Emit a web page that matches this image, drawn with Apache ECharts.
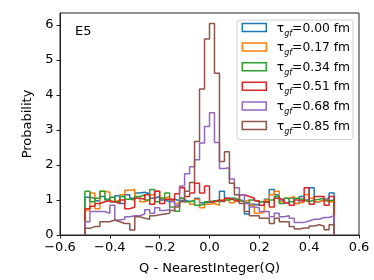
<!DOCTYPE html>
<html><head><meta charset="utf-8">
<script src="https://cdn.jsdelivr.net/npm/echarts@6/dist/echarts.min.js"></script>
<style>html,body{margin:0;padding:0;background:#fff}#c{width:374px;height:280px}</style>
</head><body><div id="c"></div>
<script>
// bin edges: 50 bins from -0.5 to 0.5
var binStart = -0.5, binWidth = 0.02, nBins = 50;
var labels = ['0.00', '0.17', '0.34', '0.51', '0.68', '0.85'];
var colors = ['#1f77b4', '#ff7f0e', '#2ca02c', '#d62728', '#9467bd', '#8c564b'];
var xTicks = [-0.6, -0.4, -0.2, 0.0, 0.2, 0.4, 0.6];
var yTicks = [0, 1, 2, 3, 4, 5, 6];

var tau000 = [1.08,1.05,0.98,1.10,1.02,0.95,1.12,0.90,1.15,1.05,1.20,1.22,1.18,1.05,1.10,1.00,0.95,1.02,0.98,1.00,0.96,0.98,1.05,0.92,0.93,0.95,1.00,1.25,1.05,1.05,1.00,0.98,0.60,0.88,0.85,0.95,1.02,1.30,1.15,1.00,0.92,1.05,0.90,1.10,1.00,1.35,0.95,1.00,1.05,1.20];
var tau017 = [0.70,1.20,0.75,1.25,1.22,0.95,1.00,1.15,1.28,1.30,1.05,0.95,1.00,1.15,1.25,1.05,1.10,0.98,0.90,1.05,0.95,0.88,1.02,0.78,0.88,0.90,0.85,1.00,1.00,0.92,0.98,0.95,1.00,0.85,0.62,0.65,1.00,1.15,1.25,0.95,1.05,1.10,0.90,0.95,1.15,1.05,0.95,1.00,0.95,0.95];
var tau034 = [1.25,0.95,1.05,1.25,1.00,1.08,0.95,1.10,1.02,1.00,1.10,1.15,1.00,1.30,0.95,1.05,1.20,0.80,0.68,1.05,0.95,0.98,0.85,0.88,0.95,0.98,0.95,1.00,1.00,1.05,1.00,0.95,0.90,1.00,0.95,0.95,0.92,1.00,1.10,0.90,1.05,0.95,1.05,1.00,0.95,1.00,1.02,1.05,0.98,1.00];
var tau051 = [0.75,0.82,0.90,0.95,0.98,0.95,0.90,1.00,0.75,0.80,1.05,1.02,1.15,0.88,1.25,0.90,1.02,1.00,1.18,1.35,1.10,1.20,1.48,1.20,1.40,0.95,1.00,0.95,1.05,1.00,0.95,1.15,1.10,1.05,0.98,0.85,0.95,0.80,1.05,1.00,0.92,0.85,1.00,0.95,1.35,0.88,1.10,1.10,0.85,1.10];
var tau068 = [0.38,0.67,0.67,0.67,0.62,0.85,0.43,0.45,0.52,0.55,0.55,0.60,0.72,0.62,0.78,0.70,0.72,0.95,0.85,1.40,1.75,1.95,2.15,2.63,3.10,3.49,2.64,1.90,1.92,1.60,1.35,1.15,0.90,0.80,0.78,0.67,0.67,0.52,0.62,0.52,0.55,0.48,0.36,0.36,0.40,0.45,0.45,0.50,0.50,0.55];
var tau085 = [0.19,0.24,0.24,0.38,0.38,0.43,0.38,0.33,0.33,0.14,0.52,0.48,0.45,0.55,0.58,0.60,0.62,0.70,0.80,0.95,1.25,1.50,2.67,4.17,5.60,6.04,4.62,2.10,2.38,1.48,1.15,0.90,0.67,0.55,0.55,0.48,0.48,0.33,0.48,0.38,0.38,0.24,0.17,0.20,0.20,0.26,0.29,0.26,0.15,0.29];
var allSeries = [tau000, tau017, tau034, tau051, tau068, tau085];

function stepData(vals) {
  var d = [[binStart, 0]];
  for (var i = 0; i < vals.length; i++) d.push([+(binStart + i * binWidth).toFixed(4), vals[i]]);
  d.push([+(binStart + nBins * binWidth).toFixed(4), vals[vals.length - 1]]);
  d.push([+(binStart + nBins * binWidth).toFixed(4), 0]);
  return d;
}
function fmtNum(v) { return (v < 0 ? '\u2212' : '') + Math.abs(v).toFixed(1); }

var series = allSeries.map(function (vals, k) {
  return {
    name: 'tau' + labels[k], type: 'line', step: 'end', data: stepData(vals),
    showSymbol: false, symbol: 'none', animation: false, z: 2 + k,
    lineStyle: { color: colors[k], width: 1.5 }, itemStyle: { color: colors[k] }
  };
});

var FS = 13, LFS = 12.3;
var chart = echarts.init(document.getElementById('c'), null, { renderer: 'canvas' });
chart.setOption({
  animation: false,
  backgroundColor: '#fff',
  textStyle: { fontFamily: 'DejaVu Sans' },
  grid: { left: 60, right: 15, top: 13, bottom: 45, outerBoundsMode: 'none', containLabel: false, show: true, borderColor: '#222', borderWidth: 1, backgroundColor: 'transparent' },
  xAxis: {
    type: 'value', min: -0.6, max: 0.6, interval: 0.2,
    axisLine: { show: true, onZero: false, lineStyle: { color: '#222', width: 1 } },
    axisTick: { show: true, length: 3.5, inside: false, lineStyle: { color: '#222' } },
    splitLine: { show: false },
    axisLabel: { formatter: fmtNum, color: '#000', fontSize: FS, margin: 6.5, fontFamily: 'DejaVu Sans' },
    name: 'Q - NearestInteger(Q)', nameLocation: 'middle', nameGap: 27,
    nameTextStyle: { color: '#000', fontSize: FS, fontFamily: 'DejaVu Sans' }
  },
  yAxis: {
    type: 'value', min: 0, max: 6.34, interval: 1,
    axisLine: { show: true, onZero: false, lineStyle: { color: '#222', width: 1 } },
    axisTick: { show: true, length: 3.5, lineStyle: { color: '#222' } },
    splitLine: { show: false },
    axisLabel: { formatter: function (v) { return yTicks.indexOf(v) >= 0 ? String(v) : ''; }, color: '#000', fontSize: FS, margin: 6.5, fontFamily: 'DejaVu Sans', showMaxLabel: false },
    name: 'Probability', nameLocation: 'middle', nameGap: 23, nameRotate: 90,
    nameTextStyle: { color: '#000', fontSize: FS, fontFamily: 'DejaVu Sans' }
  },
  legend: {
    orient: 'vertical', right: 21, top: 20, icon: 'rect', itemWidth: 24, itemHeight: 8, itemGap: 4.6,
    padding: [2.5, 3, 4, 4.5], borderColor: '#d0d0d0', borderWidth: 1, borderRadius: 3, backgroundColor: 'rgba(255,255,255,0.8)',
    data: labels.map(function (l, k) {
      return { name: 'tau' + l, itemStyle: { color: 'rgba(0,0,0,0)', borderColor: colors[k], borderWidth: 1.5 } };
    }),
    formatter: function (name) { return '{p|\u03c4}{s|gf}{t|=' + name.slice(3) + ' fm}'; },
    textStyle: {
      fontSize: LFS, color: '#000', fontFamily: 'DejaVu Sans',
      rich: {
        p: { fontSize: LFS, fontFamily: 'DejaVu Sans', color: '#000', verticalAlign: 'bottom', lineHeight: 14, padding: [0, 0, 0, 5.5] },
        t: { fontSize: LFS, fontFamily: 'DejaVu Sans', color: '#000', verticalAlign: 'bottom', lineHeight: 14 },
        s: { fontSize: 8, fontStyle: 'italic', fontFamily: 'DejaVu Sans', color: '#000', verticalAlign: 'bottom', padding: [0, 0, -3, 0] }
      }
    }
  },
  graphic: [{ type: 'text', left: 75, top: 25, style: { text: 'E5', fontSize: FS, fontFamily: 'DejaVu Sans', fill: '#000' } }],
  series: series
});
</script></body></html>
